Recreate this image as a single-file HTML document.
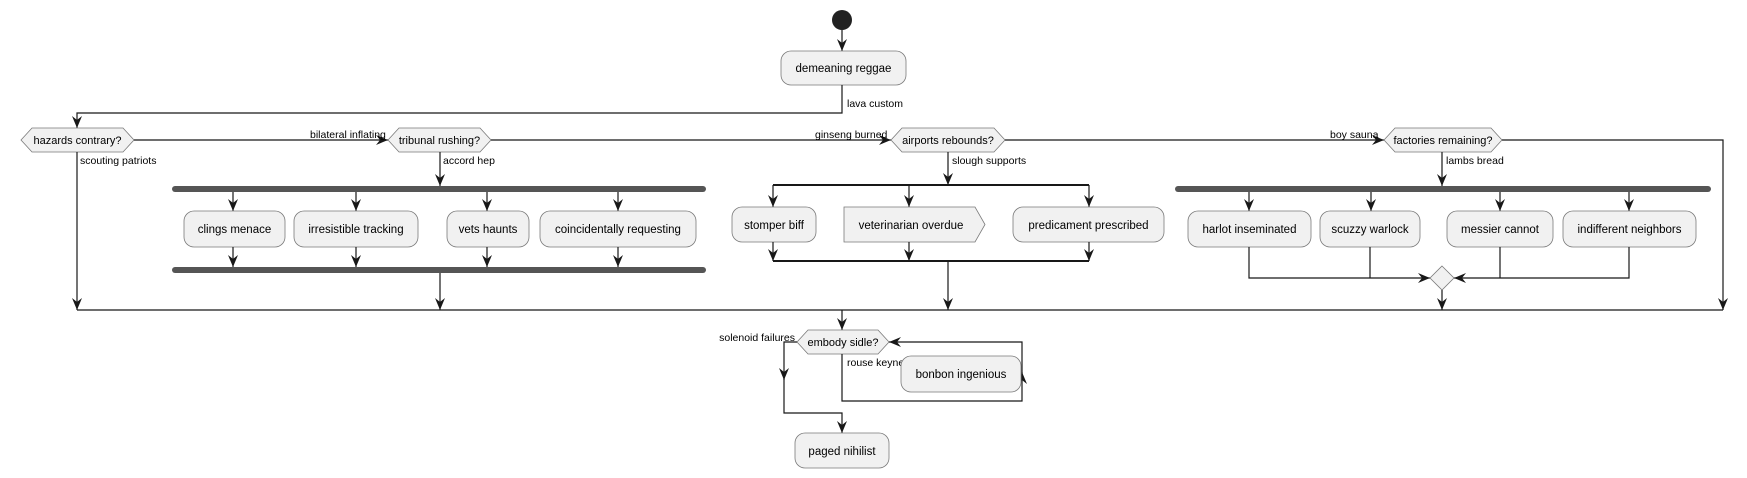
<!DOCTYPE html>
<html><head><meta charset="utf-8"><style>
html,body{margin:0;padding:0;background:#fff;}
svg{display:block;}
text{font-family:"Liberation Sans",sans-serif;fill:#000;}
.n{font-size:11.5px;}
.h{font-size:11px;}
.l{font-size:10.5px;}
.b{fill:#f1f1f1;stroke:#7a7a7a;stroke-width:0.8;}
.ln{stroke:#181818;stroke-width:1.2;fill:none;}
.bar{fill:#555;}
</style></head><body>
<svg width="1747" height="478" viewBox="0 0 1747 478" xmlns="http://www.w3.org/2000/svg">
<defs>
<marker id="a" viewBox="0 0 12 10" refX="12" refY="5" markerWidth="12" markerHeight="10" markerUnits="userSpaceOnUse" orient="auto">
<path d="M0,0 L12,5 L0,10 L4,5 Z" fill="#181818"/>
</marker>
</defs>
<circle cx="842" cy="20" r="10" fill="#222"/>
<path class="ln" d="M842,30 V51" marker-end="url(#a)"/>
<rect class="b" x="781" y="51" width="125" height="34" rx="10"/>
<text class="n" x="843.5" y="72" text-anchor="middle">demeaning reggae</text>
<path class="ln" d="M842,85 V113 H77 V128" marker-end="url(#a)"/>
<text class="l" x="847" y="107">lava custom</text>

<polygon class="b" points="21,140 32,128 123,128 134,140 123,152 32,152"/>
<text class="h" x="77.5" y="144" text-anchor="middle">hazards contrary?</text>
<text class="l" x="80" y="164">scouting patriots</text>
<path class="ln" d="M134,140 H388" marker-end="url(#a)"/>
<text class="l" x="310" y="138">bilateral inflating</text>
<path class="ln" d="M77,152 V310" marker-end="url(#a)"/>

<polygon class="b" points="388,140 399,128 480,128 491,140 480,152 399,152"/>
<text class="h" x="439.5" y="144" text-anchor="middle">tribunal rushing?</text>
<text class="l" x="443" y="164">accord hep</text>
<path class="ln" d="M440,152 V186" marker-end="url(#a)"/>
<path class="ln" d="M491,140 H891" marker-end="url(#a)"/>
<text class="l" x="815" y="138">ginseng burned</text>
<rect class="bar" x="172" y="186" width="534" height="6" rx="3"/>
<path class="ln" d="M233,192 V211" marker-end="url(#a)"/>
<path class="ln" d="M356,192 V211" marker-end="url(#a)"/>
<path class="ln" d="M487,192 V211" marker-end="url(#a)"/>
<path class="ln" d="M618,192 V211" marker-end="url(#a)"/>
<rect class="b" x="184" y="211" width="101" height="36" rx="10"/>
<text class="n" x="234.5" y="233" text-anchor="middle">clings menace</text>
<rect class="b" x="294" y="211" width="124" height="36" rx="10"/>
<text class="n" x="356" y="233" text-anchor="middle">irresistible tracking</text>
<rect class="b" x="447" y="211" width="82" height="36" rx="10"/>
<text class="n" x="488" y="233" text-anchor="middle">vets haunts</text>
<rect class="b" x="540" y="211" width="156" height="36" rx="10"/>
<text class="n" x="618" y="233" text-anchor="middle">coincidentally requesting</text>
<path class="ln" d="M233,247 V267" marker-end="url(#a)"/>
<path class="ln" d="M356,247 V267" marker-end="url(#a)"/>
<path class="ln" d="M487,247 V267" marker-end="url(#a)"/>
<path class="ln" d="M618,247 V267" marker-end="url(#a)"/>
<rect class="bar" x="172" y="267" width="534" height="6" rx="3"/>
<path class="ln" d="M440,273 V310" marker-end="url(#a)"/>

<polygon class="b" points="891,140 902,128 994,128 1005,140 994,152 902,152"/>
<text class="h" x="948" y="144" text-anchor="middle">airports rebounds?</text>
<text class="l" x="952" y="164">slough supports</text>
<path class="ln" d="M948,152 V185" marker-end="url(#a)"/>
<path d="M773,185 H1089" stroke="#181818" stroke-width="2" fill="none"/>
<path class="ln" d="M773,185 V207" marker-end="url(#a)"/>
<path class="ln" d="M909,185 V207" marker-end="url(#a)"/>
<path class="ln" d="M1089,185 V207" marker-end="url(#a)"/>
<rect class="b" x="732" y="207" width="84" height="35" rx="10"/>
<text class="n" x="774" y="229" text-anchor="middle">stomper biff</text>
<polygon class="b" points="844,207 975,207 985,224.5 975,242 844,242"/>
<text class="n" x="911" y="229" text-anchor="middle">veterinarian overdue</text>
<rect class="b" x="1013" y="207" width="151" height="35" rx="10"/>
<text class="n" x="1088.5" y="229" text-anchor="middle">predicament prescribed</text>
<path class="ln" d="M773,242 V261" marker-end="url(#a)"/>
<path class="ln" d="M909,242 V261" marker-end="url(#a)"/>
<path class="ln" d="M1089,242 V261" marker-end="url(#a)"/>
<path d="M773,261 H1089" stroke="#181818" stroke-width="2" fill="none"/>
<path class="ln" d="M948,261 V310" marker-end="url(#a)"/>

<path class="ln" d="M1005,140 H1384" marker-end="url(#a)"/>
<text class="l" x="1330" y="138">boy sauna</text>

<polygon class="b" points="1384,140 1395,128 1491,128 1502,140 1491,152 1395,152"/>
<text class="h" x="1443" y="144" text-anchor="middle">factories remaining?</text>
<text class="l" x="1446" y="164">lambs bread</text>
<path class="ln" d="M1442,152 V186" marker-end="url(#a)"/>
<path class="ln" d="M1502,140 H1723 V310" marker-end="url(#a)"/>
<rect class="bar" x="1175" y="186" width="536" height="6" rx="3"/>
<path class="ln" d="M1249,192 V211" marker-end="url(#a)"/>
<path class="ln" d="M1371,192 V211" marker-end="url(#a)"/>
<path class="ln" d="M1500,192 V211" marker-end="url(#a)"/>
<path class="ln" d="M1629,192 V211" marker-end="url(#a)"/>
<rect class="b" x="1188" y="211" width="123" height="36" rx="10"/>
<text class="n" x="1249.5" y="233" text-anchor="middle">harlot inseminated</text>
<rect class="b" x="1320" y="211" width="100" height="36" rx="10"/>
<text class="n" x="1370" y="233" text-anchor="middle">scuzzy warlock</text>
<rect class="b" x="1447" y="211" width="106" height="36" rx="10"/>
<text class="n" x="1500" y="233" text-anchor="middle">messier cannot</text>
<rect class="b" x="1563" y="211" width="133" height="36" rx="10"/>
<text class="n" x="1629.5" y="233" text-anchor="middle">indifferent neighbors</text>
<path class="ln" d="M1249,247 V278 H1430" marker-end="url(#a)"/>
<path class="ln" d="M1370,247 V278"/>
<path class="ln" d="M1629,247 V278 H1454" marker-end="url(#a)"/>
<path class="ln" d="M1500,247 V278"/>
<polygon class="b" points="1442,266 1454,278 1442,290 1430,278"/>
<path class="ln" d="M1442,290 V310" marker-end="url(#a)"/>

<path class="ln" d="M77,310 H1723"/>
<path class="ln" d="M842,310 V330" marker-end="url(#a)"/>

<polygon class="b" points="797,342 808,330 878,330 889,342 878,354 808,354"/>
<text class="h" x="843" y="346" text-anchor="middle">embody sidle?</text>
<text class="l" x="795" y="341" text-anchor="end">solenoid failures</text>
<path class="ln" d="M797,342 H784 V380" marker-end="url(#a)"/>
<path class="ln" d="M784,378 V413 H842 V433" marker-end="url(#a)"/>
<text class="l" x="847" y="366">rouse keyne</text>
<path class="ln" d="M842,354 V401 H1022 V372" marker-end="url(#a)"/>
<path class="ln" d="M1022,374 V342 H889" marker-end="url(#a)"/>
<rect class="b" x="901" y="356" width="120" height="36" rx="10"/>
<text class="n" x="961" y="378" text-anchor="middle">bonbon ingenious</text>
<rect class="b" x="795" y="433" width="94" height="35" rx="10"/>
<text class="n" x="842" y="455" text-anchor="middle">paged nihilist</text>
</svg>
</body></html>
